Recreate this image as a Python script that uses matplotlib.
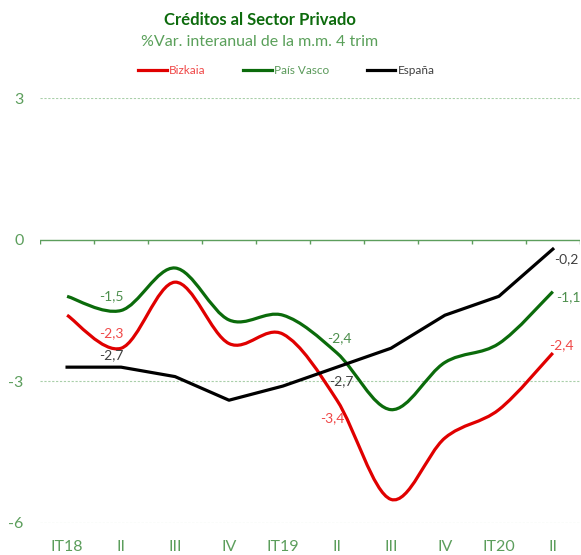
import numpy as np
import matplotlib.pyplot as plt
from matplotlib.path import Path
from matplotlib.patches import PathPatch
from matplotlib.lines import Line2D

plt.rcParams['font.family'] = ['Lato', 'DejaVu Sans']

periods = ['IT18', 'II', 'III', 'IV', 'IT19', 'II', 'III', 'IV', 'IT20', 'II']
bizkaia = [-1.6, -2.3, -0.9, -2.2, -2.0, -3.4, -5.5, -4.2, -3.6, -2.4]
pais_vasco = [-1.2, -1.5, -0.6, -1.7, -1.6, -2.4, -3.6, -2.6, -2.2, -1.1]
espana = [-2.7, -2.7, -2.9, -3.4, -3.1, -2.7, -2.3, -1.6, -1.2, -0.2]

RED = '#e00000'
GREEN = '#0b6b0b'
BLACK = '#000000'
AXGREEN = '#5c9e5c'


def smooth_path(x, y):
    # Excel-style smoothed line drawn as cubic Bezier segments
    x = np.asarray(x, float)
    y = np.asarray(y, float)
    n = len(x)
    verts = [(x[0], y[0])]
    codes = [Path.MOVETO]
    t = 1 / 6
    for i in range(n - 1):
        p0 = (x[max(i - 1, 0)], y[max(i - 1, 0)])
        p1 = (x[i], y[i])
        p2 = (x[i + 1], y[i + 1])
        p3 = (x[min(i + 2, n - 1)], y[min(i + 2, n - 1)])
        c1 = (p1[0] + (p2[0] - p0[0]) * t, p1[1] + (p2[1] - p0[1]) * t)
        c2 = (p2[0] - (p3[0] - p1[0]) * t, p2[1] - (p3[1] - p1[1]) * t)
        verts += [c1, c2, p2]
        codes += [Path.CURVE4] * 3
    return Path(verts, codes)


fig = plt.figure(figsize=(5.81, 5.55), dpi=100)
ax = fig.add_axes([0.069, 0.0577, 0.929, 0.7657])
x = np.arange(len(periods))

ax.set_xlim(-0.5, 9.5)
ax.set_ylim(-6, 3)
for s in ax.spines.values():
    s.set_visible(False)

for v in [3, -3, -6]:
    ax.axhline(v, color='#a9cfa9', lw=0.8, ls=(0, (2, 1.5)), zorder=1)
ax.axhline(0, color=AXGREEN, lw=1.0, zorder=1)
ax.vlines(np.arange(-0.5, 10), -0.09, 0, color=AXGREEN, lw=1.0)

ax.add_patch(PathPatch(smooth_path(x, bizkaia), fill=False, ec=RED, lw=2.3, zorder=3))
ax.add_patch(PathPatch(smooth_path(x, pais_vasco), fill=False, ec=GREEN, lw=2.3, zorder=3))
ax.plot(x, espana, color=BLACK, lw=2.3, zorder=3)

ax.set_yticks([3, 0, -3, -6])
ax.set_yticklabels(['3', '0', '-3', '-6'])
ax.set_xticks(x)
ax.set_xticklabels(periods)
ax.tick_params(axis='y', length=0, pad=12, labelsize=11.5, labelcolor=AXGREEN)
ax.tick_params(axis='x', length=0, pad=12, labelsize=11.5, labelcolor=AXGREEN)

fmt = lambda v: f'{v:.1f}'.replace('.', ',')
lbl = dict(fontsize=10, zorder=4)
# labels at II (2018)
ax.annotate(fmt(pais_vasco[1]), (1, pais_vasco[1]), xytext=(-7, 10), textcoords='offset points',
            ha='center', va='center', color='#4d8f4d', **lbl)
ax.annotate(fmt(bizkaia[1]), (1, bizkaia[1]), xytext=(-7, 11), textcoords='offset points',
            ha='center', va='center', color='#f04848', **lbl)
ax.annotate(fmt(espana[1]), (1, espana[1]), xytext=(-7, 9), textcoords='offset points',
            ha='center', va='center', color='#404040', **lbl)
# labels at II (2019)
ax.annotate(fmt(pais_vasco[5]), (5, pais_vasco[5]), xytext=(2, 11), textcoords='offset points',
            ha='center', va='center', color='#4d8f4d', **lbl)
ax.annotate(fmt(espana[5]), (5, espana[5]), xytext=(3, -10), textcoords='offset points',
            ha='center', va='center', color='#404040', **lbl)
ax.annotate(fmt(bizkaia[5]), (5, bizkaia[5]), xytext=(-3, -13), textcoords='offset points',
            ha='center', va='center', color='#f04848', **lbl)
# labels at last point
ax.annotate(fmt(espana[-1]), (9, espana[-1]), xytext=(1, -7), textcoords='offset points',
            ha='left', va='center', color='#404040', **lbl)
ax.annotate(fmt(pais_vasco[-1]), (9, pais_vasco[-1]), xytext=(2, -4), textcoords='offset points',
            ha='left', va='center', color='#4d8f4d', **lbl)
ax.annotate(fmt(bizkaia[-1]), (9, bizkaia[-1]), xytext=(6, 6), textcoords='offset points',
            ha='center', va='center', color='#f04848', **lbl)

fig.text(0.447, 1 - 20 / 555, 'Créditos al Sector Privado', ha='center', va='center',
         fontsize=12, color='#0d6b0d', fontweight='bold')
fig.text(0.447, 1 - 42 / 555, '%Var. interanual de la m.m. 4 trim', ha='center', va='center',
         fontsize=11.5, color='#5aa05a')

handles = [Line2D([], [], color=RED, lw=2.3),
           Line2D([], [], color=GREEN, lw=2.3),
           Line2D([], [], color=BLACK, lw=2.3)]
leg = fig.legend(handles, ['Bizkaia', 'País Vasco', 'España'], loc='center',
                 bbox_to_anchor=(0.493, 1 - 71 / 555), ncol=3, frameon=False,
                 fontsize=8.5, handlelength=2.4, handletextpad=0.2, columnspacing=3.2)
for t, c in zip(leg.get_texts(), ['#f04848', '#5a9a5a', '#404040']):
    t.set_color(c)

fig.savefig('out.png', dpi=100)
